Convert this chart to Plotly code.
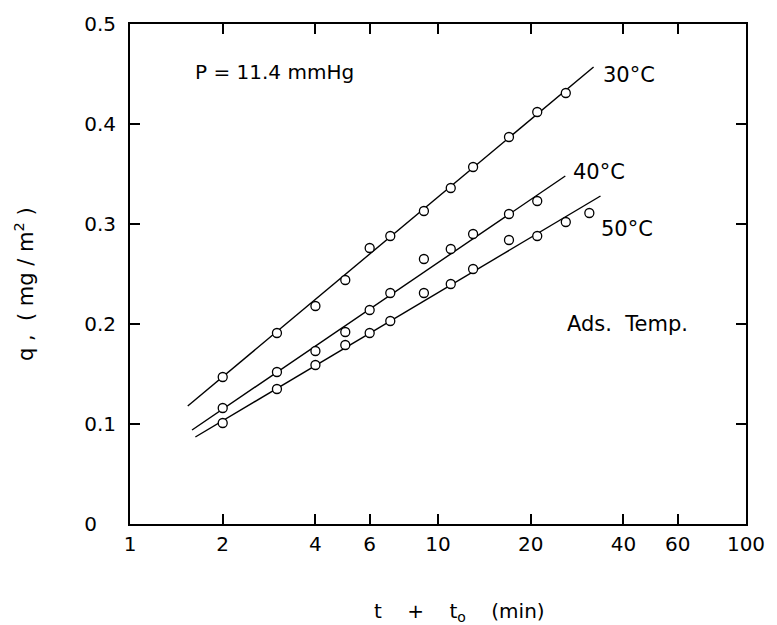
import math
import plotly.graph_objects as go

# ---- data ----
t_all = [2, 3, 4, 5, 6, 7, 9, 11, 13, 17, 21, 26, 31]
t30 = t_all[:12]
q30 = [0.147, 0.191, 0.218, 0.244, 0.276, 0.288, 0.313, 0.336, 0.357, 0.387, 0.412, 0.431]
t40 = t_all[:11]
q40 = [0.116, 0.152, 0.173, 0.192, 0.214, 0.231, 0.265, 0.275, 0.290, 0.310, 0.323]
t50 = t_all[:13]
q50 = [0.101, 0.135, 0.159, 0.179, 0.191, 0.203, 0.231, 0.240, 0.255, 0.284, 0.288, 0.302, 0.311]

# fitted straight lines (end points)
fit30_t = [1.54, 32.0]
fit30_q = [0.118, 0.457]
fit40_t = [1.59, 25.9]
fit40_q = [0.094, 0.348]
fit50_t = [1.63, 33.7]
fit50_q = [0.087, 0.328]

x_tickvals = [1, 2, 4, 6, 10, 20, 40, 60, 100]
x_ticktext = ["1", "2", "4", "6", "10", "20", "40", "60", "100"]
y_tickvals = [0, 0.1, 0.2, 0.3, 0.4, 0.5]
y_ticktext = ["0\u00a0\u00a0\u00a0", "0.1", "0.2", "0.3", "0.4", "0.5"]

FONT = "DejaVu Sans"
NB = "\u00a0"

fig = go.Figure()
for ft, fq in [(fit30_t, fit30_q), (fit40_t, fit40_q), (fit50_t, fit50_q)]:
    fig.add_trace(go.Scatter(x=ft, y=fq, mode="lines",
                             line=dict(color="black", width=1.4),
                             showlegend=False, hoverinfo="skip"))
for tt, qq in [(t30, q30), (t40, q40), (t50, q50)]:
    fig.add_trace(go.Scatter(x=tt, y=qq, mode="markers",
                             marker=dict(symbol="circle", size=9, color="white",
                                         line=dict(color="black", width=1.3)),
                             showlegend=False))

ann_font = dict(family=FONT, size=21, color="black")
annotations = [
    dict(x=1.60, y=0.452, text="P = 11.4 mmHg", xanchor="left", yanchor="middle",
         font=dict(family=FONT, size=20, color="black")),
    dict(x=33.7, y=0.449, text="30°C", xanchor="left", yanchor="middle", font=ann_font),
    dict(x=27.0, y=0.352, text="40°C", xanchor="left", yanchor="middle", font=ann_font),
    dict(x=33.4, y=0.295, text="50°C", xanchor="left", yanchor="middle", font=ann_font),
    dict(x=25.8, y=0.200, text="Ads." + NB + " Temp.", xanchor="left", yanchor="middle",
         font=dict(family=FONT, size=21, color="black")),
    dict(xref="paper", yref="paper", x=-0.172, y=0.48, textangle=-90,
         text="q" + NB + ",\u00a0\u00a0(\u00a0mg\u00a0/\u00a0m<sup>2</sup>\u00a0)",
         xanchor="center", yanchor="middle",
         font=dict(family=FONT, size=21, color="black")),
    dict(xref="paper", yref="paper", x=0.535, y=-0.175,
         text="t" + NB * 4 + "+" + NB * 4 + "t<sub>o</sub>" + NB * 4 + "(min)",
         xanchor="center", yanchor="middle",
         font=dict(family=FONT, size=20, color="black")),
]
for a in annotations:
    a["showarrow"] = False
    if "xref" not in a:
        a["x"] = math.log10(a["x"])

fig.update_layout(
    width=777, height=625,
    margin=dict(l=130, r=25, t=20, b=101),
    paper_bgcolor="white", plot_bgcolor="white",
    annotations=annotations,
    font=dict(family=FONT, size=20, color="black"),
)
fig.update_xaxes(type="log", range=[0, 2], tickvals=x_tickvals, ticktext=x_ticktext,
                 ticks="inside", ticklen=10, tickwidth=1.5, tickcolor="black",
                 showline=True, linewidth=2, linecolor="black", mirror="ticks",
                 showgrid=False, zeroline=False, ticklabelstandoff=1,
                 tickfont=dict(family=FONT, size=20, color="black"))
fig.update_yaxes(range=[0, 0.5], tickvals=y_tickvals, ticktext=y_ticktext,
                 ticks="inside", ticklen=10, tickwidth=1.5, tickcolor="black",
                 showline=True, linewidth=2, linecolor="black", mirror="ticks",
                 showgrid=False, zeroline=False, ticklabelstandoff=8,
                 tickfont=dict(family=FONT, size=20, color="black"))

fig.write_html("out.html")
